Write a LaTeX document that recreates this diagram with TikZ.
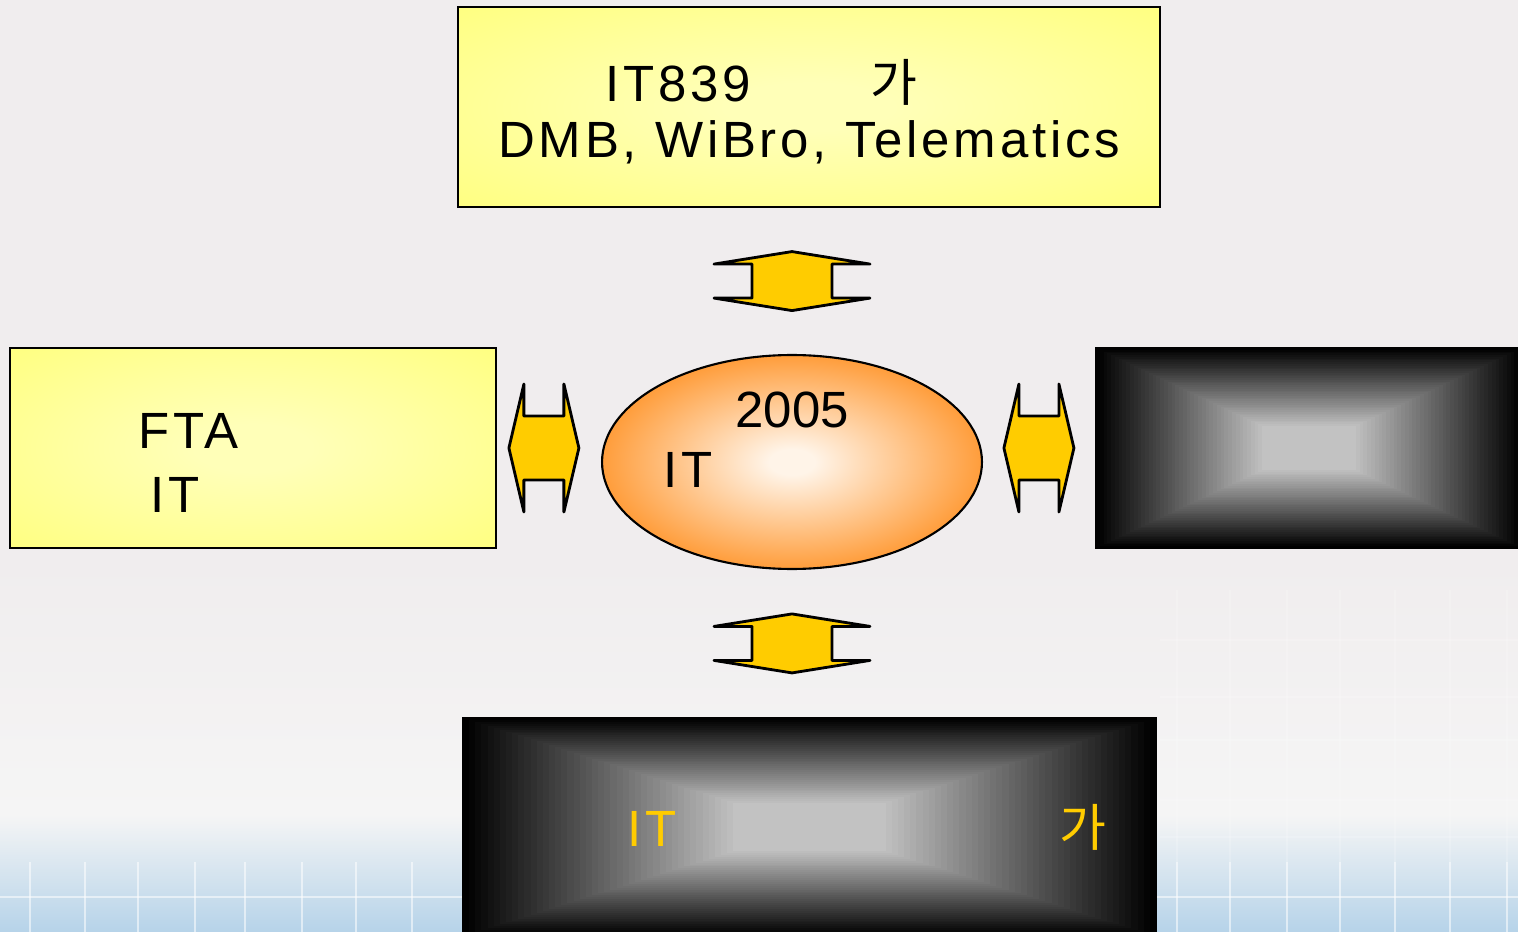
\documentclass[tikz,border=0pt]{standalone}
\usepackage{fontspec}
\setmainfont{Liberation Sans}[LetterSpace=7.5]
\newfontfamily\kr{Noto Sans CJK KR}
\usetikzlibrary{shapes.geometric, calc}
\definecolor{fondoclaro}{HTML}{F0EDEE}
\definecolor{fondoblanco}{HTML}{F5F5F5}
\definecolor{fondoazul}{HTML}{B6D3E9}
\definecolor{amarillofuerte}{HTML}{FFFF66}
\definecolor{amarillosuave}{HTML}{FFFFB8}
\definecolor{naranjaoval}{HTML}{FF9933}
\definecolor{cremaoval}{HTML}{FFF4E8}
\definecolor{doradoflecha}{HTML}{FFCC00}
\colorlet{colBgTop}{fondoclaro}
\colorlet{colBgMid}{fondoblanco}
\colorlet{colBgLow}{fondoazul}
\colorlet{colYellowEdge}{amarillofuerte}
\colorlet{colYellowCenter}{amarillosuave}
\colorlet{colOvalEdge}{naranjaoval}
\colorlet{colOvalCenter}{cremaoval}
\colorlet{colArrow}{doradoflecha}
\colorlet{colTextGold}{doradoflecha}
\pgfdeclareradialshading{shadeYellow}{\pgfpoint{0bp}{0bp}}{%
  color(0bp)=(colYellowCenter); color(6bp)=(colYellowCenter);
  color(50bp)=(colYellowEdge)}
\pgfdeclareradialshading{shadeOval}{\pgfpoint{0bp}{0bp}}{%
  color(0bp)=(colOvalCenter); color(3bp)=(colOvalCenter);
  color(26bp)=(colOvalEdge); color(50bp)=(colOvalEdge)}
\tikzset{
  boxBase/.style={
    draw=black, line width=1.4pt, rectangle,
    minimum height=4cm, inner sep=0pt
  },
  boxYellow/.style={boxBase, shade, shading=shadeYellow},
  boxDark/.style={boxBase, fill=black, path picture={
      \foreach \k in {0,...,44}{
        \pgfmathsetmacro{\tono}{76*\k/44}
        \fill[white!\tono!black]
          ($(path picture bounding box.south west)!{0.39*\k/44}!(path picture bounding box.north east)$)
          rectangle
          ($(path picture bounding box.north east)!{0.39*\k/44}!(path picture bounding box.south west)$);
      }}},
  ovalCentro/.style={ellipse, draw=black, line width=1.2pt, shade, shading=shadeOval,
    minimum width=7.6cm, minimum height=4.28cm, inner sep=0pt},
  flechaBloque/.style={fill=colArrow, draw=black, line width=1.6pt, line join=round},
  lineaRejilla/.style={white, opacity=0.55, line width=1.2pt},
}

\begin{document}
\begin{tikzpicture}[
    x=0.02cm, y=-0.02cm,
    etiqueta/.style={anchor=base west, inner sep=0pt, font=\fontsize{29}{34}\selectfont}
  ]
  \useasboundingbox (0,0) rectangle (1518,932);
  \clip (0,0) rectangle (1518,932);

  % background
  \fill[colBgTop] (0,0) rectangle (1518,932);
  \shade[top color=colBgTop, bottom color=colBgMid] (0,560) rectangle (1518,815);
  \shade[top color=colBgMid, bottom color=colBgLow] (0,815) rectangle (1518,932);
  \foreach \x in {30,85,138,195,245,302,356,412,1177,1230,1287,1340,1395,1450,1507}
    \draw[lineaRejilla] (\x,862) -- (\x,932);
  \foreach \x in {1177,1230,1287,1340,1395,1450,1507}
    \draw[lineaRejilla, opacity=0.18] (\x,590) -- (\x,862);
  \draw[lineaRejilla] (0,897) -- (1518,897);
  \foreach \y in {640,697,740,800,837}
    \draw[lineaRejilla, opacity=0.18] (1160,\y) -- (1518,\y);

  % boxes and oval
  \node[boxYellow, minimum width=14.04cm] (boxTop) at (809,107) {};
  \node[boxYellow, minimum width=9.72cm] (boxLeft) at (253,448) {};
  \node[boxDark, minimum width=8.52cm] (boxRight) at (1309,448) {};
  \node[boxDark, minimum width=13.86cm, minimum height=4.36cm] (boxBottom) at (809.5,827) {};
  \node[ovalCentro] (oval) at (792,462) {};

  % texts
  \node[etiqueta] (tituloA) at (605,102) {IT839\hspace{2.4cm}{\kr 가}};
  \node[etiqueta] (tituloB) at (498,158) {DMB, WiBro, Telematics};
  \node[etiqueta] (ftaA) at (138,448) {FTA};
  \node[etiqueta] (ftaB) at (150,512) {IT};
  \node[etiqueta] (anio) at (735,428) {\addfontfeatures{LetterSpace=0}2005};
  \node[etiqueta] (ovalIT) at (663,487) {IT};
  \node[etiqueta, text=colTextGold] (bajoIT) at (627,846) {IT};
  \node[etiqueta, text=colTextGold] (bajoKa) at (1059,846) {\kr 가};

  % arrows between boxes and oval
  \coordinate (midTop) at ($(boxTop.south)!.5!(oval.north)$);
  \coordinate (midBottom) at ($(oval.south)!.5!(boxBottom.north)$);
  \coordinate (midLeft) at ($(boxLeft.east)!.45!(oval.west)$);
  \coordinate (midRight) at ($(oval.east)!.5!(boxRight.west)$);
  \coordinate (arrowTop) at (oval |- midTop);
  \coordinate (arrowBottom) at (oval |- midBottom);
  \coordinate (arrowLeft) at (midLeft |- boxLeft.east);
  \coordinate (arrowRight) at (midRight |- boxRight.west);

  \foreach \c in {arrowTop, arrowBottom}
    \draw[flechaBloque, shift={(\c)}] (0,-29.5) -- (78,-17) -- (40,-17) -- (40,17)
      -- (78,17) -- (0,29.5) -- (-78,17) -- (-40,17) -- (-40,-17) -- (-78,-17) -- cycle;
  \foreach \c in {arrowLeft, arrowRight}
    \draw[flechaBloque, shift={(\c)}] (-35,0) -- (-20,-64) -- (-20,-32) -- (20,-32)
      -- (20,-64) -- (35,0) -- (20,64) -- (20,32) -- (-20,32) -- (-20,64) -- cycle;
\end{tikzpicture}
\end{document}
